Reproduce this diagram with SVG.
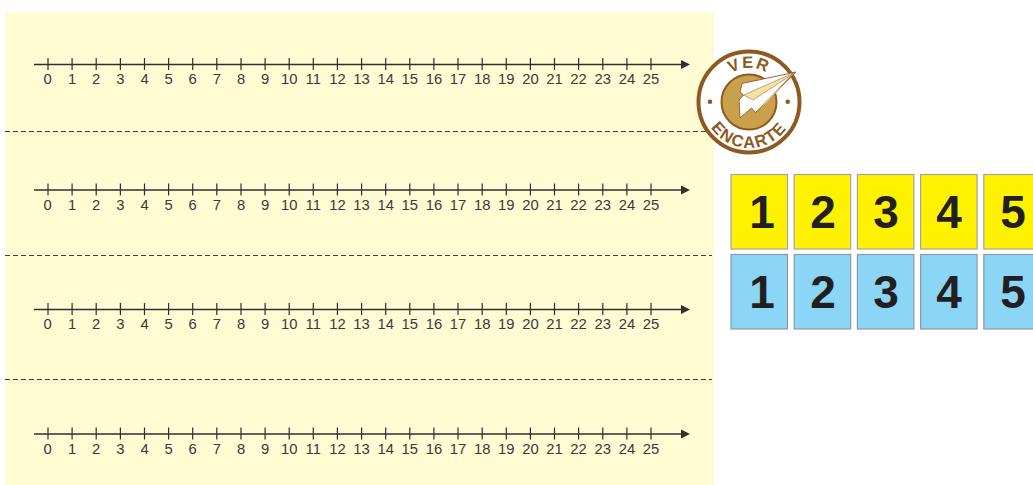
<svg xmlns="http://www.w3.org/2000/svg" width="1033" height="485" viewBox="0 0 1033 485">
<style>
.lbl{font-family:"Liberation Sans",Arial,sans-serif;font-size:14.800px;fill:#3a3a3c;text-anchor:middle}
.num{font-family:"Liberation Sans",Arial,sans-serif;font-size:46px;font-weight:bold;fill:#231f20;text-anchor:middle}
.dash{stroke:#3f3f3f;stroke-width:1;stroke-dasharray:5 3;fill:none}
.y{fill:#fff200;stroke:#a3a3a3;stroke-width:1.2}
.b{fill:#8bd5f7;stroke:#8e9aa3;stroke-width:1.2}
.badge{font-family:"Liberation Sans Narrow","Liberation Sans",Arial,sans-serif;font-size:16.500px;font-weight:bold;fill:#8f5a22;letter-spacing:1.500px;text-anchor:middle}
.axis{stroke:#2f2f31;stroke-width:1.600;fill:none}
</style>
<defs>
<marker id="arrow" markerUnits="userSpaceOnUse" markerWidth="10" markerHeight="12" refX="0" refY="6" orient="auto"><path d="M0 1.500L9 6L0 10.500Z" fill="#2f2f31"/></marker>
<path id="ticks" fill="none" stroke="#2f2f31" stroke-width="1.200" d="M48 -6.500V5.500M72.100 -6.500V5.500M96.200 -6.500V5.500M120.400 -6.500V5.500M144.500 -6.500V5.500M168.600 -6.500V5.500M192.700 -6.500V5.500M216.800 -6.500V5.500M241 -6.500V5.500M265.100 -6.500V5.500M289.200 -6.500V5.500M313.300 -6.500V5.500M337.400 -6.500V5.500M361.600 -6.500V5.500M385.700 -6.500V5.500M409.800 -6.500V5.500M433.900 -6.500V5.500M458 -6.500V5.500M482.200 -6.500V5.500M506.300 -6.500V5.500M530.400 -6.500V5.500M554.500 -6.500V5.500M578.600 -6.500V5.500M602.800 -6.500V5.500M626.900 -6.500V5.500M651 -6.500V5.500"/>
<path id="arcTop" d="M715 102A34 34 0 0 1 783 102"/>
<path id="arcBot" d="M703 102A46 46 0 0 0 795 102"/>
</defs>
<rect id="sheet" x="5" y="12" width="709" height="473" fill="#fffbd3"/>
<g id="connectors">
<path class="dash" d="M5 131.500H712"/>
<path class="dash" d="M5 255.500H712"/>
<path class="dash" d="M5 379.500H712"/>
</g>
<g id="line1" transform="translate(0 64.500)">
<path class="axis" d="M34 0H681" marker-end="url(#arrow)"/><use href="#ticks"/>
<g class="lbl"><text x="47.500" y="19.500">0</text><text x="72.100" y="19.500">1</text><text x="96.200" y="19.500">2</text><text x="120.400" y="19.500">3</text><text x="144.500" y="19.500">4</text><text x="168.600" y="19.500">5</text><text x="192.700" y="19.500">6</text><text x="216.800" y="19.500">7</text><text x="241" y="19.500">8</text><text x="265.100" y="19.500">9</text><text x="289.200" y="19.500">10</text><text x="313.300" y="19.500">11</text><text x="337.400" y="19.500">12</text><text x="361.600" y="19.500">13</text><text x="385.700" y="19.500">14</text><text x="409.800" y="19.500">15</text><text x="433.900" y="19.500">16</text><text x="458" y="19.500">17</text><text x="482.200" y="19.500">18</text><text x="506.300" y="19.500">19</text><text x="530.400" y="19.500">20</text><text x="554.500" y="19.500">21</text><text x="578.600" y="19.500">22</text><text x="602.800" y="19.500">23</text><text x="626.900" y="19.500">24</text><text x="651" y="19.500">25</text></g>
</g>
<g id="line2" transform="translate(0 190)">
<path class="axis" d="M34 0H681" marker-end="url(#arrow)"/><use href="#ticks"/>
<g class="lbl"><text x="47.500" y="19.500">0</text><text x="72.100" y="19.500">1</text><text x="96.200" y="19.500">2</text><text x="120.400" y="19.500">3</text><text x="144.500" y="19.500">4</text><text x="168.600" y="19.500">5</text><text x="192.700" y="19.500">6</text><text x="216.800" y="19.500">7</text><text x="241" y="19.500">8</text><text x="265.100" y="19.500">9</text><text x="289.200" y="19.500">10</text><text x="313.300" y="19.500">11</text><text x="337.400" y="19.500">12</text><text x="361.600" y="19.500">13</text><text x="385.700" y="19.500">14</text><text x="409.800" y="19.500">15</text><text x="433.900" y="19.500">16</text><text x="458" y="19.500">17</text><text x="482.200" y="19.500">18</text><text x="506.300" y="19.500">19</text><text x="530.400" y="19.500">20</text><text x="554.500" y="19.500">21</text><text x="578.600" y="19.500">22</text><text x="602.800" y="19.500">23</text><text x="626.900" y="19.500">24</text><text x="651" y="19.500">25</text></g>
</g>
<g id="line3" transform="translate(0 309.500)">
<path class="axis" d="M34 0H681" marker-end="url(#arrow)"/><use href="#ticks"/>
<g class="lbl"><text x="47.500" y="19.500">0</text><text x="72.100" y="19.500">1</text><text x="96.200" y="19.500">2</text><text x="120.400" y="19.500">3</text><text x="144.500" y="19.500">4</text><text x="168.600" y="19.500">5</text><text x="192.700" y="19.500">6</text><text x="216.800" y="19.500">7</text><text x="241" y="19.500">8</text><text x="265.100" y="19.500">9</text><text x="289.200" y="19.500">10</text><text x="313.300" y="19.500">11</text><text x="337.400" y="19.500">12</text><text x="361.600" y="19.500">13</text><text x="385.700" y="19.500">14</text><text x="409.800" y="19.500">15</text><text x="433.900" y="19.500">16</text><text x="458" y="19.500">17</text><text x="482.200" y="19.500">18</text><text x="506.300" y="19.500">19</text><text x="530.400" y="19.500">20</text><text x="554.500" y="19.500">21</text><text x="578.600" y="19.500">22</text><text x="602.800" y="19.500">23</text><text x="626.900" y="19.500">24</text><text x="651" y="19.500">25</text></g>
</g>
<g id="line4" transform="translate(0 434)">
<path class="axis" d="M34 0H681" marker-end="url(#arrow)"/><use href="#ticks"/>
<g class="lbl"><text x="47.500" y="19.500">0</text><text x="72.100" y="19.500">1</text><text x="96.200" y="19.500">2</text><text x="120.400" y="19.500">3</text><text x="144.500" y="19.500">4</text><text x="168.600" y="19.500">5</text><text x="192.700" y="19.500">6</text><text x="216.800" y="19.500">7</text><text x="241" y="19.500">8</text><text x="265.100" y="19.500">9</text><text x="289.200" y="19.500">10</text><text x="313.300" y="19.500">11</text><text x="337.400" y="19.500">12</text><text x="361.600" y="19.500">13</text><text x="385.700" y="19.500">14</text><text x="409.800" y="19.500">15</text><text x="433.900" y="19.500">16</text><text x="458" y="19.500">17</text><text x="482.200" y="19.500">18</text><text x="506.300" y="19.500">19</text><text x="530.400" y="19.500">20</text><text x="554.500" y="19.500">21</text><text x="578.600" y="19.500">22</text><text x="602.800" y="19.500">23</text><text x="626.900" y="19.500">24</text><text x="651" y="19.500">25</text></g>
</g>
<g id="badge">
<circle cx="749" cy="102" r="50.500" fill="#fff" stroke="#8f5a22" stroke-width="4"/>
<circle cx="749" cy="102" r="27.500" fill="#c9a04b" stroke="#8f5a22" stroke-width="2"/>
<circle cx="710" cy="101.700" r="2.300" fill="#8f5a22"/>
<circle cx="787.700" cy="101.700" r="2.300" fill="#8f5a22"/>
<polygon points="796,72 742,83.500 740,92 743.500,95 739,100 740,118 751.500,108 755.500,112.500" fill="#fff" stroke="#8f5a22" stroke-width="0.900"/>
<polygon points="796,72 743.500,95 753,100" fill="#f3e2a3" stroke="#8f5a22" stroke-width="0.500"/>
<polygon points="793,73.500 755.500,112.500 767,103" fill="#f3e2a3" stroke="#8f5a22" stroke-width="0.500"/>
<text class="badge"><textPath href="#arcTop" startOffset="50%">VER</textPath></text>
<text class="badge"><textPath href="#arcBot" startOffset="50%">ENCARTE</textPath></text>
</g>
<g id="card-y1"><rect class="y" x="731" y="174.500" width="56.500" height="74.500"/><text class="num" x="762" y="228">1</text></g>
<g id="card-y2"><rect class="y" x="794.200" y="174.500" width="56.500" height="74.500"/><text class="num" x="823" y="228">2</text></g>
<g id="card-y3"><rect class="y" x="857.400" y="174.500" width="56.500" height="74.500"/><text class="num" x="886" y="228">3</text></g>
<g id="card-y4"><rect class="y" x="920.600" y="174.500" width="56.500" height="74.500"/><text class="num" x="949" y="228">4</text></g>
<g id="card-y5"><rect class="y" x="983.800" y="174.500" width="56.500" height="74.500"/><text class="num" x="1013" y="228">5</text></g>
<g id="card-b1"><rect class="b" x="731" y="254.500" width="56.500" height="74.500"/><text class="num" x="762" y="308">1</text></g>
<g id="card-b2"><rect class="b" x="794.200" y="254.500" width="56.500" height="74.500"/><text class="num" x="823" y="308">2</text></g>
<g id="card-b3"><rect class="b" x="857.400" y="254.500" width="56.500" height="74.500"/><text class="num" x="886" y="308">3</text></g>
<g id="card-b4"><rect class="b" x="920.600" y="254.500" width="56.500" height="74.500"/><text class="num" x="949" y="308">4</text></g>
<g id="card-b5"><rect class="b" x="983.800" y="254.500" width="56.500" height="74.500"/><text class="num" x="1013" y="308">5</text></g>
</svg>
